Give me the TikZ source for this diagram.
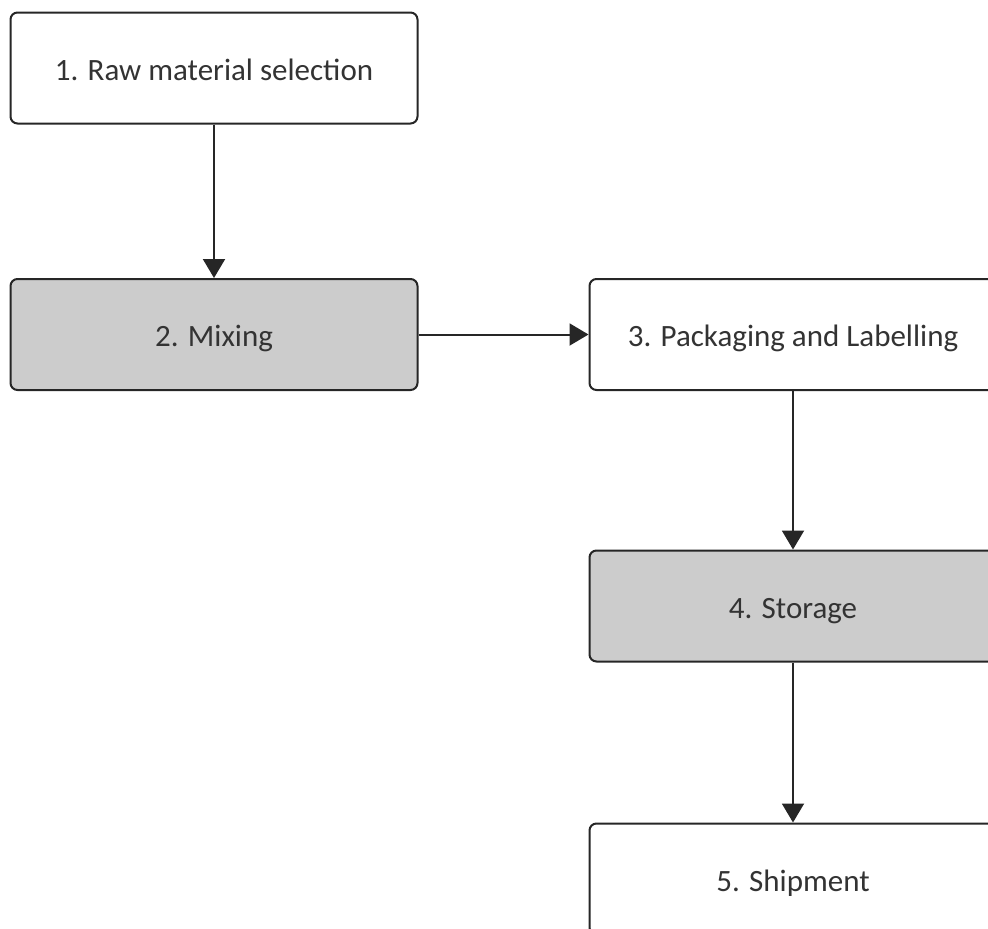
\documentclass[tikz,border=0pt]{standalone}
\usepackage{fontspec}
\setmainfont{Carlito}
\usetikzlibrary{arrows.meta}
\definecolor{boxgray}{HTML}{CCCCCC}
\definecolor{txt}{HTML}{333333}
\tikzset{
  stepbox/.style={draw=black!85, line width=2pt, rounded corners=7pt, minimum width=407pt, minimum height=111pt, inner sep=0pt, text height=27pt, text depth=3pt, text=txt, font=\fontsize{31}{36}\selectfont, fill=white},
  graybox/.style={stepbox, fill=boxgray},
  conn/.style={draw=black!85, line width=2pt, -{Triangle[length=19pt,width=22pt]}}
}
\begin{document}
\begin{tikzpicture}[x=1pt,y=-1pt]
\useasboundingbox (0,0) rectangle (988,929);
\clip (0,0) rectangle (988,929);
\node[stepbox] (n1) at (214,68) {1. Raw material selection};
\node[graybox] (n2) at (214,334.5) {2. Mixing};
\node[stepbox] (n3) at (793,334.5) {3. Packaging and Labelling};
\node[graybox] (n4) at (793,606) {4. Storage};
\node[stepbox] (n5) at (793,879) {5. Shipment};
\draw[conn] (n1) -- (n2);
\draw[conn] (n2) -- (n3);
\draw[conn] (n3) -- (n4);
\draw[conn] (n4) -- (n5);
\end{tikzpicture}
\end{document}
